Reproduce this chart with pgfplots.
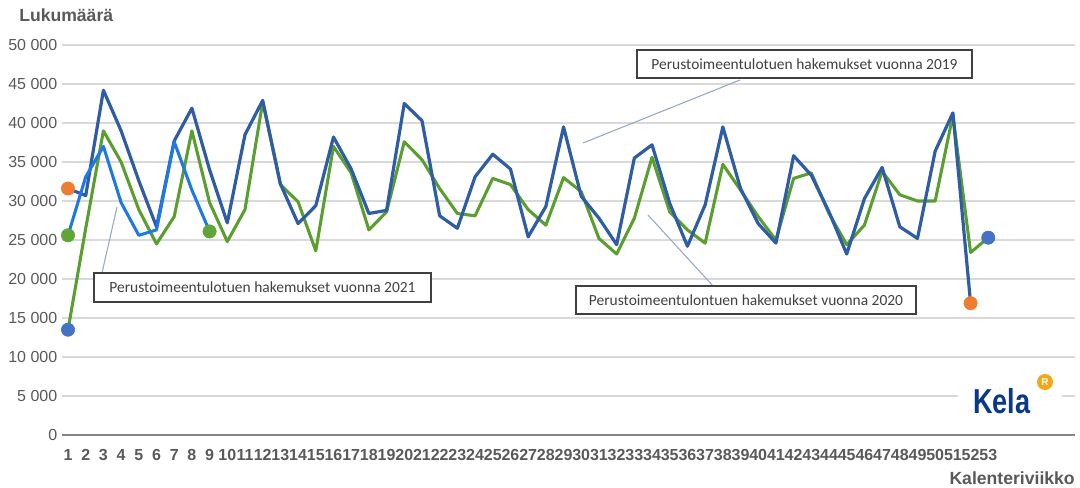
\documentclass[border=0pt]{standalone}
\usepackage{pgfplots}
\pgfplotsset{compat=1.18}
\usepackage{pgfplotstable}
\usepackage{fontspec}
\setmainfont{Liberation Sans}
\newfontfamily\calibri{Carlito}

\definecolor{c2019}{RGB}{46,92,165}
\definecolor{c2020}{RGB}{90,158,48}
\definecolor{c2021}{RGB}{30,120,230}
\definecolor{dotorange}{RGB}{237,125,49}
\definecolor{dotblue}{RGB}{68,114,196}
\definecolor{dotgreen}{RGB}{96,165,55}
\definecolor{tickgray}{RGB}{89,89,89}
\definecolor{gridgray}{RGB}{217,217,217}
\definecolor{axisgray}{RGB}{134,134,134}
\definecolor{boxgray}{RGB}{64,64,64}
\definecolor{leader}{RGB}{150,168,196}
\definecolor{kelablue}{RGB}{10,58,135}
\definecolor{kelaorange}{RGB}{245,166,20}

% 2019, viikot 1-52
\pgfplotstableread{
week v
1 31600
2 30700
3 44200
4 39000
5 32600
6 26700
7 37700
8 41900
9 34000
10 27200
11 38500
12 42900
13 32200
14 27100
15 29400
16 38200
17 34100
18 28400
19 28800
20 42500
21 40300
22 28100
23 26500
24 33100
25 36000
26 34100
27 25400
28 29300
29 39500
30 30600
31 27800
32 24400
33 35500
34 37200
35 29700
36 24200
37 29500
38 39500
39 31600
40 27100
41 24600
42 35800
43 33300
44 28600
45 23200
46 30300
47 34300
48 26700
49 25200
50 36400
51 41300
52 16900
}\dataA

% 2020, viikot 1-53
\pgfplotstableread{
week v
1 13500
2 26500
3 39000
4 35000
5 28900
6 24500
7 28000
8 39000
9 29800
10 24800
11 28900
12 42700
13 32100
14 29900
15 23600
16 37000
17 33600
18 26300
19 28600
20 37600
21 35300
22 31600
23 28400
24 28100
25 32900
26 32100
27 28900
28 26900
29 33000
30 31200
31 25200
32 23200
33 27800
34 35600
35 28600
36 26300
37 24600
38 34700
39 31400
40 28000
41 25000
42 32900
43 33600
44 28400
45 24400
46 26900
47 33800
48 30800
49 30000
50 30000
51 41000
52 23400
53 25300
}\dataB

% 2021, viikot 1-9
\pgfplotstableread{
week v
1 25600
2 33100
3 37000
4 29800
5 25600
6 26300
7 37600
8 31400
9 26100
}\dataC

\begin{document}
\begin{tikzpicture}
\begin{scope}[x=0.75pt,y=-0.75pt]
\useasboundingbox (0,0) rectangle (1080,488);
\end{scope}

\begin{axis}[
    at={(46.5pt,-326.25pt)}, anchor=south west,
    scale only axis,
    width=759.75pt, height=292.5pt,
    xmin=0.66, xmax=57.9,
    ymin=0, ymax=50000,
    clip=false,
    axis x line*=bottom, axis y line*=left,
    x axis line style={-, draw=axisgray, line width=1.5pt},
    y axis line style={-, draw=none},
    major tick length=0pt,
    ymajorgrids,
    grid style={draw=gridgray, line width=0.9pt},
    xtick={1,...,53},
    ytick={0,5000,...,50000},
    yticklabels={0,5 000,10 000,15 000,20 000,25 000,30 000,35 000,40 000,45 000,50 000},
    scaled y ticks=false,
    /pgf/number format/assume math mode=true,
    tick label style={text=tickgray, font=\fontsize{12}{14}\selectfont},
    xticklabel style={font=\fontsize{12}{14}\selectfont\bfseries, yshift=-7pt},
]
\addplot[c2020, line width=2.3pt, line join=round] table[x=week,y=v] {\dataB};
\addplot[c2019, line width=2.4pt, line join=round] table[x=week,y=v] {\dataA};
\addplot[c2021, line width=2.3pt, line join=round] table[x=week,y=v] {\dataC};

\addplot[only marks, mark=*, mark size=5pt, dotorange, mark options={draw=none}] coordinates {(1,31600) (52,16900)};
\addplot[only marks, mark=*, mark size=5pt, dotblue, mark options={draw=none}] coordinates {(1,13500) (53,25300)};
\addplot[only marks, mark=*, mark size=5pt, dotgreen, mark options={draw=none}] coordinates {(1,25600) (9,26100)};
\end{axis}

\begin{scope}[x=0.75pt,y=-0.75pt]
% otsikot
\node[anchor=base west, inner sep=0, text=tickgray, font=\fontsize{13.2}{15}\selectfont\bfseries] at (19,22) {Lukumäärä};
\node[anchor=base east, inner sep=0, text=tickgray, font=\fontsize{13.2}{15}\selectfont\bfseries] at (1075,484) {Kalenteriviikko};

% selitteiden viivat
\draw[leader, line width=0.8pt] (740,80) -- (583,143);
\draw[leader, line width=0.8pt] (117,207) -- (102,273);
\draw[leader, line width=0.8pt] (648,215) -- (713,286);

% selitelaatikot
\draw[boxgray, line width=1pt, fill=white] (637,50) rectangle (972,78);
\node[text=boxgray, font=\calibri\fontsize{11.6}{13}\selectfont] at (804.5,64) {Perustoimeentulotuen hakemukset vuonna 2019};
\draw[boxgray, line width=1pt, fill=white] (94,273) rectangle (431,302);
\node[text=boxgray, font=\calibri\fontsize{11.6}{13}\selectfont] at (262.5,287.5) {Perustoimeentulotuen hakemukset vuonna 2021};
\draw[boxgray, line width=1pt, fill=white] (576,286) rectangle (916,314);
\node[text=boxgray, font=\calibri\fontsize{11.6}{13}\selectfont] at (746,300) {Perustoimeentulontuen hakemukset vuonna 2020};

% Kela-logo
\fill[white] (958,378) rectangle (1062,420);
\node[anchor=base west, inner sep=0, text=kelablue, font=\fontsize{26}{28}\selectfont\bfseries, xscale=0.78] at (973,413) {Kela};
\fill[kelaorange] (1045,382) circle (8);
\node[text=white, font=\fontsize{7.5}{8}\selectfont\bfseries, inner sep=0] at (1045,382) {R};
\end{scope}
\end{tikzpicture}
\end{document}
